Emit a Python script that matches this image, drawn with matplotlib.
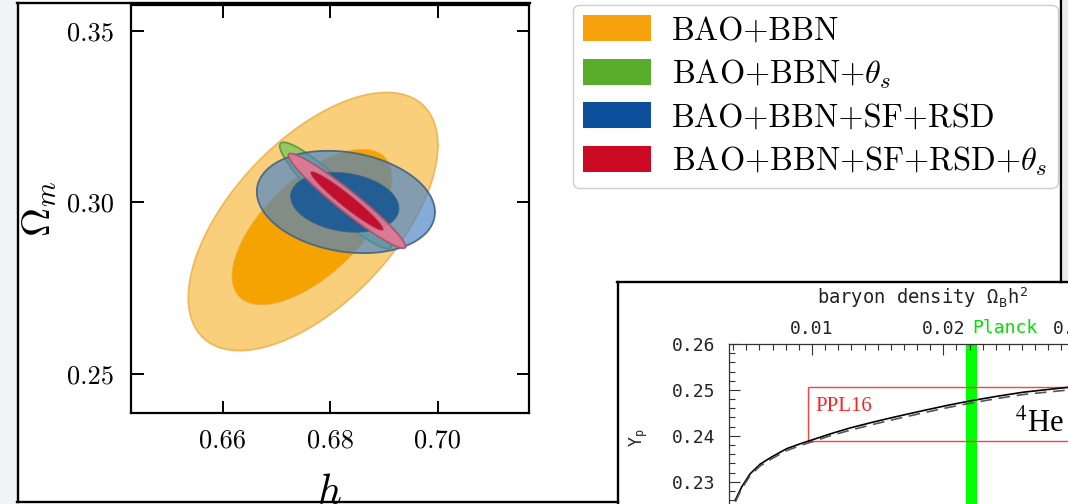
import numpy as np
import matplotlib
matplotlib.use("Agg")
import matplotlib.pyplot as plt
from matplotlib.patches import Patch, Rectangle
from matplotlib.lines import Line2D
from matplotlib.ticker import MultipleLocator, FormatStrFormatter

plt.rcParams["font.family"] = "cmr10"
plt.rcParams["mathtext.fontset"] = "cm"
plt.rcParams["axes.formatter.use_mathtext"] = True

# ---- main panel: Gaussian approximations of the posteriors (h, Omega_m) ----
labels = ["BAO+BBN", r"BAO+BBN+$\theta_s$", "BAO+BBN+SF+RSD", r"BAO+BBN+SF+RSD+$\theta_s$"]
# 95% contour
h_mean = [0.6768, 0.6810, 0.6829, 0.6831]
om_mean = [0.2944, 0.3020, 0.3001, 0.3004]
h_sig = [0.00948, 0.00425, 0.00677, 0.00445]
om_sig = [0.01536, 0.00633, 0.00609, 0.00564]
rho = [0.59, -0.93, -0.20, -0.96]
# 68% contour
h_mean_in = [0.6766, 0.6810, 0.6827, 0.6831]
om_mean_in = [0.2928, 0.3020, 0.3000, 0.3004]
h_sig_in = [0.00983, 0.00425, 0.00665, 0.00445]
om_sig_in = [0.01498, 0.00633, 0.00576, 0.00564]
rho_in = [0.63, -0.93, -0.20, -0.96]
k95, k68 = 2.448, 1.515

legend_colors = ["#f7a20c", "#58ae2b", "#0c4f9b", "#cd0a24"]
outer_fill = [("#f9c765", 0.85), ("#8cc763", 0.9), ("#4c85c6", 0.68), ("#e57896", 0.92)]
inner_fill = [("#f5a300", 1.0), ("#4e9e25", 1.0), ("#1d5b95", 0.95), ("#c10f2c", 1.0)]
edge_cols = ["#edb451", "#5a9a35", "#44627f", "#a85468"]

# ---- inset: BBN helium abundance vs baryon density ----
omb_solid = [0.00416, 0.00465, 0.00528, 0.00604, 0.00693, 0.00807, 0.00934, 0.0100,
             0.01137, 0.01289, 0.01467, 0.01645, 0.01848, 0.02026, 0.02203, 0.02407,
             0.02609, 0.0296]
yp_solid = [0.2260, 0.2289, 0.2317, 0.2338, 0.2354, 0.2372, 0.2385, 0.2391,
            0.2404, 0.2417, 0.2430, 0.2442, 0.2455, 0.2466, 0.2476, 0.2486,
            0.2495, 0.2506]
omb_dash = omb_solid
yp_dash = [0.2256, 0.2285, 0.2313, 0.2334, 0.2350, 0.2368, 0.2381, 0.2387,
           0.2400, 0.2412, 0.2425, 0.2437, 0.2450, 0.2461, 0.2471, 0.2481,
           0.2490, 0.2500]
planck_band = (0.02173, 0.02259)
ppl16_box = (0.0097, 0.2388, 0.2506)

W, H = 1068, 504
fig = plt.figure(figsize=(W / 100, H / 100), dpi=100)


def fx(px):
    return px / W


def fy(py):
    return 1 - py / H


# light strips at the edges of the screenshot
fig.add_artist(Rectangle((0, 0), fx(17), 1, transform=fig.transFigure,
                         color="#f3f4f8", lw=0, zorder=-5))
fig.add_artist(Rectangle((fx(1063), fy(282)), fx(5), 282 / H, transform=fig.transFigure,
                         color="#ececec", lw=0, zorder=-5))

ax = fig.add_axes([fx(130.9), fy(413), fx(528.6) - fx(130.9), fy(5) - fy(413)])
t = np.linspace(0, 2 * np.pi, 300)
contours = [(h_mean, om_mean, h_sig, om_sig, rho, k95, outer_fill, 1.3),
            (h_mean_in, om_mean_in, h_sig_in, om_sig_in, rho_in, k68, inner_fill, 0.6)]
for i in range(4):
    for j, (mx, my, sxs, sys_, rs, k, fills, elw) in enumerate(contours):
        sx, sy, r = sxs[i], sys_[i], rs[i]
        xs = mx[i] + k * sx * np.cos(t)
        ys = my[i] + k * sy * (r * np.cos(t) + np.sqrt(1 - r ** 2) * np.sin(t))
        col, a = fills[i]
        ax.fill(xs, ys, color=col, alpha=a, lw=0, zorder=2 + 2 * i + j)
        ax.plot(xs, ys, color=edge_cols[i], lw=elw, alpha=0.9, zorder=2 + 2 * i + j)

ax.set_xlim(0.6429, 0.7169)
ax.set_ylim(0.2386, 0.3575)
ax.set_xticks([0.66, 0.68, 0.70])
ax.set_yticks([0.25, 0.30, 0.35])
ax.xaxis.set_major_formatter(FormatStrFormatter("%.2f"))
ax.yaxis.set_major_formatter(FormatStrFormatter("%.2f"))
ax.tick_params(direction="in", top=True, right=True, length=9, width=1.4, labelsize=19)
ax.tick_params(axis="x", pad=11)
ax.tick_params(axis="y", pad=12)
for s in ax.spines.values():
    s.set_linewidth(1.6)
ax.set_xlabel(r"$h$", fontsize=30, labelpad=16)
ax.set_ylabel(r"$\Omega_m$", fontsize=29, labelpad=6)

handles = [Patch(facecolor=c, edgecolor="none") for c in legend_colors]
fig.legend(handles, labels, loc="upper left", bbox_to_anchor=(fx(573), fy(5)),
           fontsize=23.3, handlelength=2.1, handleheight=0.85, handletextpad=0.65,
           labelspacing=0.36, borderpad=0.32, borderaxespad=0, frameon=True,
           fancybox=True, edgecolor="#cfcfcf", framealpha=1)

# ---- inset axes (extends past the right / bottom edge) ----
ax2 = fig.add_axes([fx(729.3), fy(344) - 0.6175, fx(1200) - fx(729.3), 0.6175])
ax2.set_xlim(0.0037, 0.03955)
ax2.set_ylim(0.1922, 0.26)
ax2.axvspan(*planck_band, color="#00ff00", lw=0, zorder=1)
x0, y0, y1 = ppl16_box
ax2.add_patch(Rectangle((x0, y0), 0.05, y1 - y0, fill=False, ec="#ff4040", lw=1.0, zorder=2))
ax2.plot(omb_solid, yp_solid, color="black", lw=1.2, zorder=3)
ax2.plot(omb_dash, yp_dash, color="#555555", lw=1.2, ls=(0, (7, 4)), zorder=3)
ax2.xaxis.set_major_locator(MultipleLocator(0.01))
ax2.xaxis.set_minor_locator(MultipleLocator(0.001))
ax2.yaxis.set_major_locator(MultipleLocator(0.01))
ax2.yaxis.set_minor_locator(MultipleLocator(0.002))
ax2.xaxis.set_major_formatter(FormatStrFormatter("%.2f"))
ax2.yaxis.set_major_formatter(FormatStrFormatter("%.2f"))
ax2.tick_params(which="both", direction="in", top=True, labeltop=True,
                labelbottom=False, color="#333333", width=0.8,
                labelsize=13, labelfontfamily="DejaVu Sans Mono", labelcolor="#222222")
ax2.tick_params(which="major", length=8)
ax2.tick_params(which="minor", length=4.5)
ax2.tick_params(axis="x", pad=4)
ax2.tick_params(axis="y", pad=10)
for s in ax2.spines.values():
    s.set_linewidth(0.9)
    s.set_color("#333333")
ax2.text(0.41, 1 + 46 / 311.2, "baryon density Ω$_\\mathregular{B}$h$^\\mathregular{2}$",
         transform=ax2.transAxes, ha="center", va="center", fontsize=13.5,
         family="DejaVu Sans Mono", color="#222222")
ax2.text(planck_band[0] + 0.0005, 1 + 16 / 311.2, "Planck", transform=ax2.get_xaxis_transform(),
         ha="left", va="center", fontsize=13, family="DejaVu Sans Mono", color="#00e000")
ax2.text(0.01023, 0.2463, "PPL16", ha="left", va="center", fontsize=15,
         family="Liberation Serif", color="#ff2020")
ax2.text(0.02546, 0.2428, r"$^4$He", ha="left", va="center", fontsize=22,
         family="Liberation Serif", math_fontfamily="stix")
fig.text(fx(639), fy(437), "Y$_\\mathregular{p}$", rotation=90, ha="center", va="center",
         fontsize=12, family="DejaVu Sans Mono", color="#222222")

# screenshot frame lines
frame = [((17.5, 17.5), (3, 502)), ((17, 530), (3, 3)), ((17, 618), (502, 502)),
         ((1061, 1061), (0, 282)), ((617, 1068), (282, 282)), ((618, 618), (282, 504))]
for xs, ys in frame:
    fig.add_artist(Line2D([fx(v) for v in xs], [fy(v) for v in ys], color="black",
                          lw=1.7, transform=fig.transFigure, zorder=10))

fig.savefig("out.png", dpi=100)
